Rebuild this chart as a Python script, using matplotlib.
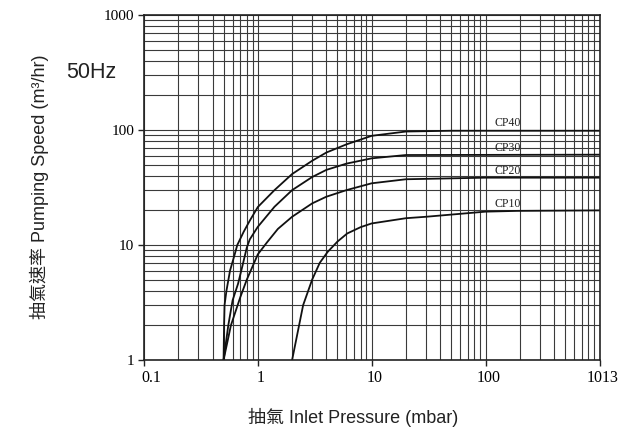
import numpy as np
import matplotlib
matplotlib.use('Agg')
import matplotlib.pyplot as plt
from matplotlib.ticker import LogLocator, NullFormatter
from matplotlib.transforms import ScaledTranslation

# 讀圖估計的曲線點 (壓力 mbar, 抽氣速率 m3/hr)
cp40_p = [0.5, 0.505, 0.51, 0.53, 0.57, 0.62, 0.66, 0.75, 0.85, 1.0, 1.4, 2, 3, 4, 6, 10, 20, 50, 1013]
cp40_s = [1, 2, 3, 4, 6, 8, 10, 13, 16.3, 21.4, 30, 41.4, 54, 63.7, 75, 89, 97, 98.5, 98.5]

cp30_p = [0.5, 0.55, 0.6, 0.67, 0.73, 0.8, 0.85, 1.0, 1.4, 2, 3, 4, 6, 10, 20, 1013]
cp30_s = [1, 2, 3.3, 4.6, 6.5, 9.5, 11.2, 14.4, 21.5, 30, 39, 45, 51, 56.7, 60.6, 61]

cp20_p = [0.5, 0.58, 0.7, 0.8, 1.0, 1.2, 1.5, 2, 3, 4, 6, 10, 20, 100, 1013]
cp20_s = [1, 2, 3.5, 5, 8.3, 10.5, 13.8, 17.6, 23, 26.3, 30, 34.4, 37.3, 38.5, 38.5]

cp10_p = [2.0, 2.5, 3.0, 3.5, 4.1, 5, 6.1, 8, 10, 20, 30, 100, 190, 1013]
cp10_s = [1, 3, 5, 7, 8.7, 10.7, 12.6, 14.3, 15.4, 17.1, 17.6, 19.5, 19.8, 20]

names = ['CP40', 'CP30', 'CP20', 'CP10']
label_y = [115, 70, 44, 22.7]

x_ticks = [0.1, 1, 10, 100, 1013]
x_labels = ['0.1', '1', '10', '100', '1013']
y_ticks = [1, 10, 100, 1000]
y_labels = ['1', '10', '100', '1000']

serif = 'Liberation Serif'
sans = ['Liberation Sans', 'Noto Sans CJK TC', 'DejaVu Sans']

fig = plt.figure(figsize=(6.3, 4.32), dpi=100)
ax = fig.add_axes([144/630, 1 - 360/432, (600 - 144)/630, (360 - 15)/432])

ax.set_xscale('log')
ax.set_yscale('log')
ax.set_xlim(0.1, 1013)
ax.set_ylim(1, 1000)

# 格線
ax.xaxis.set_minor_locator(LogLocator(base=10, subs=range(2, 10)))
ax.yaxis.set_minor_locator(LogLocator(base=10, subs=range(2, 10)))
ax.xaxis.set_minor_formatter(NullFormatter())
ax.yaxis.set_minor_formatter(NullFormatter())
ax.grid(which='both', color='#3a3a3a', lw=0.8)
ax.set_axisbelow(True)

ax.set_xticks(x_ticks)
ax.set_xticklabels(x_labels, fontfamily=serif, fontsize=11.5)
ax.set_yticks(y_ticks)
ax.set_yticklabels(y_labels, fontfamily=serif, fontsize=11)
ax.tick_params(which='minor', length=0)
ax.tick_params(which='major', direction='out', length=4, width=1, color='#222', pad=3)

for i, lab in enumerate(ax.get_xticklabels()):
    dx = 7 if i == 0 else 3
    lab.set_transform(lab.get_transform() + ScaledTranslation(dx/100, 0, fig.dpi_scale_trans))

for s in ax.spines.values():
    s.set_color('#222')
    s.set_linewidth(1.2)

# 曲線
curves = [(cp40_p, cp40_s), (cp30_p, cp30_s), (cp20_p, cp20_s), (cp10_p, cp10_s)]
for (p, s), name, ly in zip(curves, names, label_y):
    ax.plot(p, s, color='#111111', lw=1.3, solid_joinstyle='round')
    ax.text(120, ly, name, fontfamily=serif, fontsize=8.5, ha='left', va='center', color='#222')

fig.text(91/630, 1 - 73/432, '50Hz', fontfamily=sans, fontsize=15.5, ha='center', va='center', color='#222')
fig.text(353/630, 1 - 417/432, '抽氣 Inlet Pressure (mbar)', family=sans, fontsize=13,
         ha='center', va='center', color='#222')
fig.text(39/630, 1 - 187/432, '抽氣速率 Pumping Speed (m³/hr)', family=sans, fontsize=13,
         ha='center', va='center', rotation=90, color='#222')

fig.savefig('out.png', dpi=100)
